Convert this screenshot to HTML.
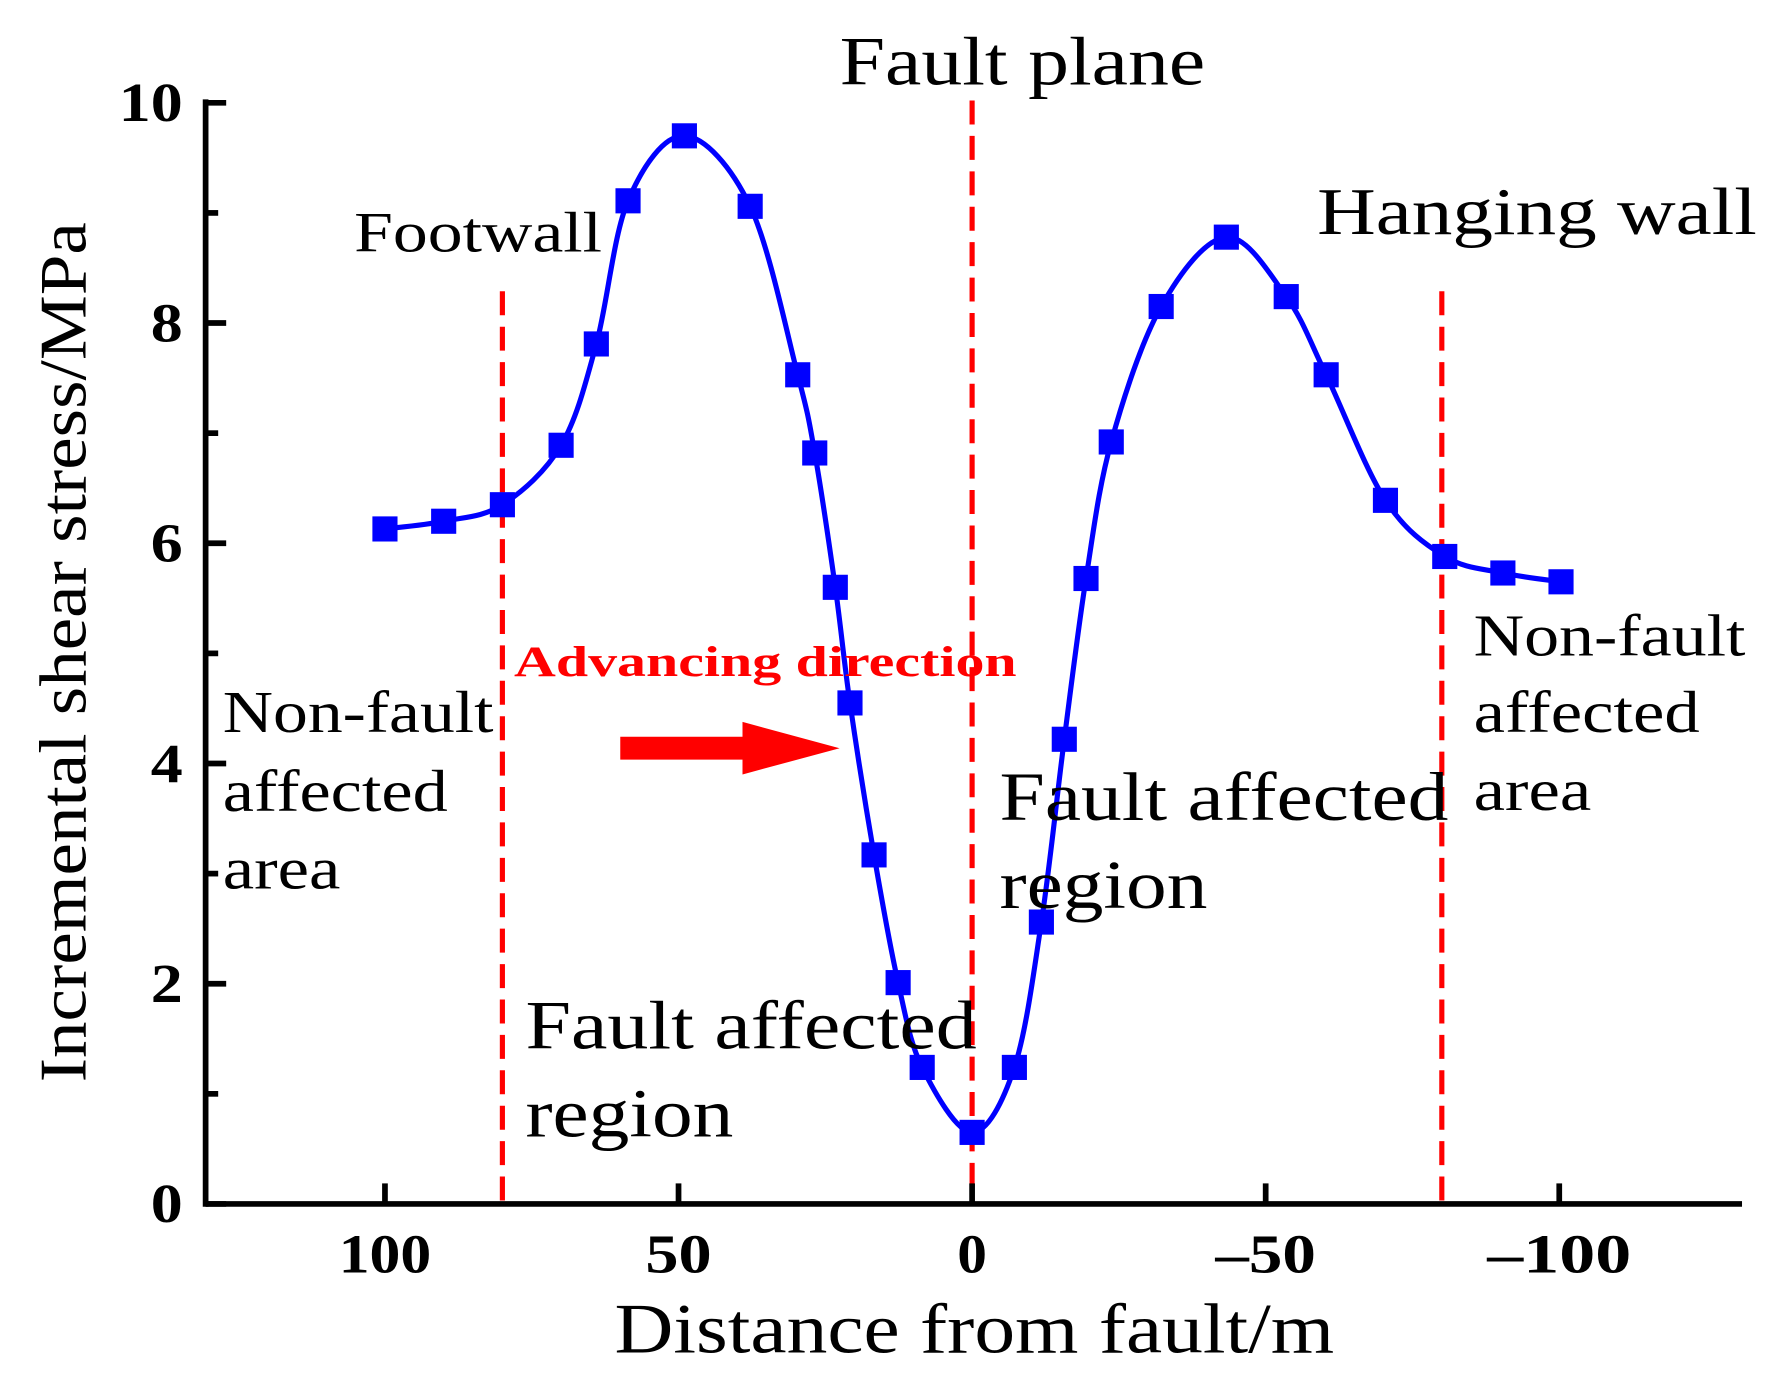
<!DOCTYPE html>
<html><head><meta charset="utf-8"><style>
html,body{margin:0;padding:0;background:#fff;}
svg{display:block;}
text{font-family:"Liberation Serif",serif;}
</style></head>
<body>
<svg id="chart" width="1782" height="1397" viewBox="0 0 1560 1223" preserveAspectRatio="none" xmlns="http://www.w3.org/2000/svg">
<g id="g"></g>
</svg>
<script>
const xValues=[100,90,80,70,64,58.6,49,37.8,29.7,26.8,23.3,20.8,16.7,12.6,8.5,0,-7.2,-11.8,-15.7,-19.4,-23.7,-32.2,-43.3,-53.5,-60.3,-70.4,-80.5,-90.4,-100.3];
const yValues=[6.13,6.20,6.35,6.89,7.81,9.11,9.70,9.06,7.53,6.82,5.60,4.55,3.17,2.01,1.24,0.65,1.24,2.56,4.22,5.68,6.92,8.15,8.78,8.24,7.53,6.39,5.88,5.73,5.65];
const xTicks=[100,50,0,-50,-100];
const xTickLabels=["100","50","0","\u201350","\u2013100"];
const yTicks=[0,2,4,6,8,10];
const yMinorTicks=[1,3,5,7,9];
const dividers=[80,0,-80];

const NS="http://www.w3.org/2000/svg";
const g=document.getElementById('g');
const L=180,R=1525,T=90,B=1054;
function sx(v){return 851-v*(851-337)/100;}
function sy(v){return B-v*(B-T)/10;}
function el(tag,attrs,txt){const e=document.createElementNS(NS,tag);for(const k in attrs)e.setAttribute(k,attrs[k]);if(txt!==undefined)e.textContent=txt;g.appendChild(e);return e;}

dividers.forEach(d=>{
  const e=el('line',{x1:sx(d),x2:sx(d),y1:d===0?88:255,y2:B,stroke:'#ff0000','stroke-width':4.5,'stroke-dasharray':'21 10'});
  
  
});

let a=el('line',{x1:L,x2:R,y1:B,y2:B,stroke:'#000','stroke-width':5});

a=el('line',{x1:L,x2:L,y1:T-3,y2:B+2.5,stroke:'#000','stroke-width':5});


function txt(name,x,y,size,s,len,extra){const at=Object.assign({x:x,y:y,'font-size':size},extra||{});if(len){at.textLength=len;at.lengthAdjust='spacingAndGlyphs';}const e=el('text',at,s);return e;}

const xLabLen=[81,58,26,88,126];
xTicks.forEach((t,i)=>{
  const e=el('line',{x1:sx(t),x2:sx(t),y1:B,y2:B-18,stroke:'#000','stroke-width':5});
  
  txt('x-tick-label',sx(t),1114,48,xTickLabels[i],xLabLen[i],{'text-anchor':'middle','font-weight':'bold'});
});
yTicks.forEach(t=>{
  const e=el('line',{x1:L,x2:L+18,y1:sy(t),y2:sy(t),stroke:'#000','stroke-width':5});
  
  txt('y-tick-label',160,sy(t)+16,48,String(t),String(t).length*28,{'text-anchor':'end','font-weight':'bold'});
});
yMinorTicks.forEach(t=>{
  const e=el('line',{x1:L,x2:L+11,y1:sy(t),y2:sy(t),stroke:'#000','stroke-width':5});
  
});

const P=xValues.map((x,i)=>[sx(x),sy(yValues[i])]);
let d='M'+P[0][0]+','+P[0][1];
for(let i=0;i<P.length-1;i++){
  const p0=P[Math.max(0,i-1)],p1=P[i],p2=P[i+1],p3=P[Math.min(P.length-1,i+2)];
  const c1=[p1[0]+(p2[0]-p0[0])/6,p1[1]+(p2[1]-p0[1])/6];
  const c2=[p2[0]-(p3[0]-p1[0])/6,p2[1]-(p3[1]-p1[1])/6];
  d+=' C'+c1[0]+','+c1[1]+' '+c2[0]+','+c2[1]+' '+p2[0]+','+p2[1];
}
const line=el('path',{d:d,fill:'none',stroke:'#0000ff','stroke-width':4.5});

P.forEach(p=>{
  const m=el('rect',{x:p[0]-11,y:p[1]-11,width:22,height:22,fill:'#0000ff'});
  
});

const ar=el('path',{d:'M543,645 L650,645 L650,632 L735,655 L650,678 L650,665 L543,665 Z',fill:'#ff0000'});


txt('fault-plane-label',735,74,60,'Fault plane',320);
txt('footwall-label',310,220,50,'Footwall',217);
txt('hanging-wall-label',1153,205,58,'Hanging wall',385);
txt('advancing-direction-label',450,592,38,'Advancing direction',440,{fill:'#ff0000','font-weight':'bold'});
txt('left-non-fault-label',195,641,52,'Non-fault',237);
txt('left-non-fault-label',195,710,52,'affected',197);
txt('left-non-fault-label',195,778,52,'area',103);
txt('right-non-fault-label',1290,574,52,'Non-fault',238);
txt('right-non-fault-label',1290,641,52,'affected',198);
txt('right-non-fault-label',1290,709,52,'area',103);
txt('right-fault-affected-label',875,718,60,'Fault affected',393);
txt('right-fault-affected-label',875,795,60,'region',182);
txt('left-fault-affected-label',460,918,60,'Fault affected',395);
txt('left-fault-affected-label',460,995,60,'region',182);
txt('x-axis-title',853,1184,62,'Distance from fault/m',630,{'text-anchor':'middle'});
txt('y-axis-title',0,0,58,'Incremental shear stress/MPa',753,{'text-anchor':'middle',transform:'translate(75,571) rotate(-90)'});
</script>
</body></html>
